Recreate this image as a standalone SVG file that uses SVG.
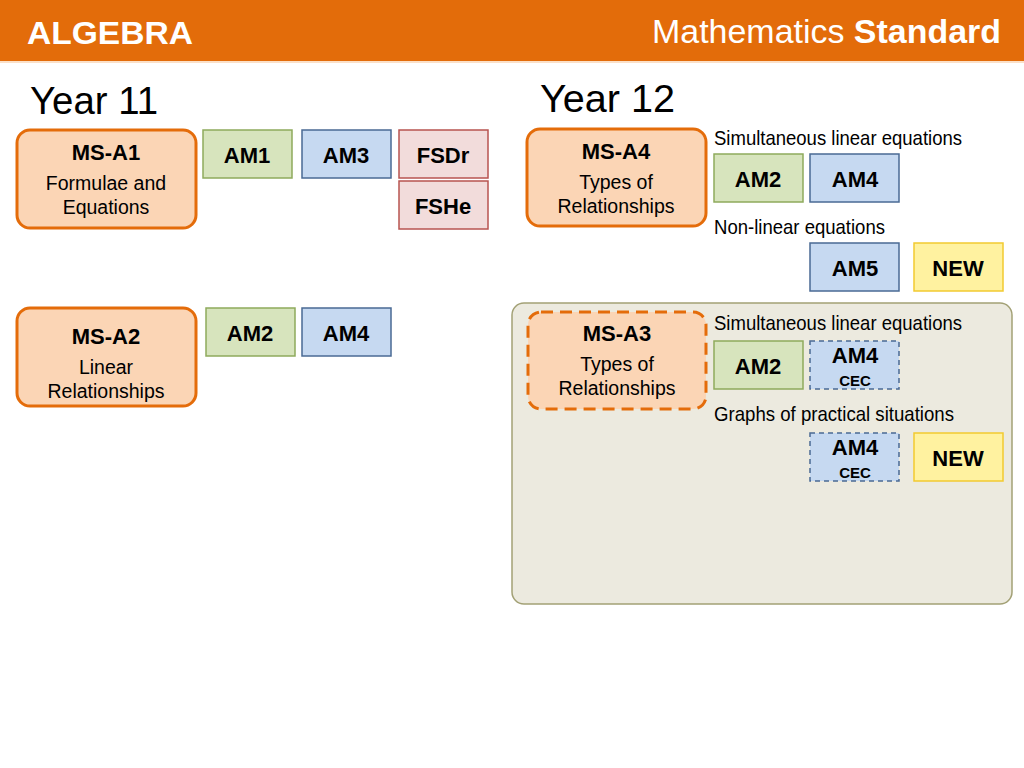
<svg xmlns="http://www.w3.org/2000/svg" width="1024" height="768" viewBox="0 0 1024 768">
<style>
text{font-family:"Liberation Sans",Arial,sans-serif;fill:#000}
.ms{fill:#FBD5B5;stroke:#E46C0A;stroke-width:3}
.msd{fill:#FBD5B5;stroke:#E46C0A;stroke-width:3;stroke-dasharray:12 7}
.g{fill:#D7E4BD;stroke:#8EAA5C;stroke-width:1.5}
.b{fill:#C6D9F1;stroke:#4A6A94;stroke-width:1.5}
.bd{fill:#C6D9F1;stroke:#4A6A94;stroke-width:1.5;stroke-dasharray:5 4}
.p{fill:#F2DCDB;stroke:#B85450;stroke-width:1.5}
.y{fill:#FFF2A0;stroke:#F2CA30;stroke-width:1.5}
.t{font-size:22px;font-weight:bold;text-anchor:middle}
.h{font-size:22px;font-weight:bold;text-anchor:middle}
.s{font-size:19.5px;text-anchor:middle}
.c{font-size:15px;font-weight:bold;text-anchor:middle}
.l{font-size:21px}
</style>
<rect x="0" y="0" width="1024" height="61" fill="#E36C0A"/>
<line x1="0" y1="62" x2="1024" y2="62" stroke="#FBE0C8" stroke-width="2"/>
<text x="27" y="44" font-size="32" font-weight="bold" textLength="166" lengthAdjust="spacingAndGlyphs" style="fill:#fff">ALGEBRA</text>
<text x="652" y="43" font-size="34" textLength="349" lengthAdjust="spacingAndGlyphs" style="fill:#fff">Mathematics <tspan font-weight="bold">Standard</tspan></text>
<text x="30" y="114" font-size="38" textLength="128" lengthAdjust="spacingAndGlyphs">Year 11</text>
<text x="540" y="112" font-size="38" textLength="135" lengthAdjust="spacingAndGlyphs">Year 12</text>

<g id="panel"><rect x="512" y="303" width="500" height="301" rx="12" fill="#ECEADF" stroke="#A3A176" stroke-width="1.5"/></g>

<g id="ms-a1"><rect class="ms" x="17" y="130" width="179" height="98" rx="13"/>
<text class="h" x="106" y="160">MS-A1</text><text class="s" x="106" y="190">Formulae and</text><text class="s" x="106" y="214">Equations</text></g>
<g id="y11-am1"><rect class="g" x="203" y="130" width="89" height="48"/><text class="t" x="247" y="163">AM1</text></g>
<g id="y11-am3"><rect class="b" x="302" y="130" width="89" height="48"/><text class="t" x="346" y="163">AM3</text></g>
<g id="fsdr"><rect class="p" x="399" y="130" width="89" height="48"/><text class="t" x="443" y="163">FSDr</text></g>
<g id="fshe"><rect class="p" x="399" y="181" width="89" height="48"/><text class="t" x="443" y="214">FSHe</text></g>

<g id="ms-a2"><rect class="ms" x="17" y="308" width="179" height="98" rx="13"/>
<text class="h" x="106" y="344">MS-A2</text><text class="s" x="106" y="374">Linear</text><text class="s" x="106" y="398">Relationships</text></g>
<g id="y11-am2"><rect class="g" x="206" y="308" width="89" height="48"/><text class="t" x="250" y="341">AM2</text></g>
<g id="y11-am4"><rect class="b" x="302" y="308" width="89" height="48"/><text class="t" x="346" y="341">AM4</text></g>

<g id="ms-a4"><rect class="ms" x="527" y="129" width="179" height="97" rx="13"/>
<text class="h" x="616" y="159">MS-A4</text><text class="s" x="616" y="189">Types of</text><text class="s" x="616" y="213">Relationships</text></g>
<text class="l" x="714" y="145" textLength="248" lengthAdjust="spacingAndGlyphs">Simultaneous linear equations</text>
<g id="a4-am2"><rect class="g" x="714" y="154" width="89" height="48"/><text class="t" x="758" y="187">AM2</text></g>
<g id="a4-am4"><rect class="b" x="810" y="154" width="89" height="48"/><text class="t" x="855" y="187">AM4</text></g>
<text class="l" x="714" y="234" textLength="171" lengthAdjust="spacingAndGlyphs">Non-linear equations</text>
<g id="a4-am5"><rect class="b" x="810" y="243" width="89" height="48"/><text class="t" x="855" y="276">AM5</text></g>
<g id="a4-new"><rect class="y" x="914" y="243" width="89" height="48"/><text class="t" x="958" y="276">NEW</text></g>

<g id="ms-a3"><rect class="msd" x="528" y="312" width="178" height="97" rx="13"/>
<text class="h" x="617" y="341">MS-A3</text><text class="s" x="617" y="371">Types of</text><text class="s" x="617" y="395">Relationships</text></g>
<text class="l" x="714" y="330" textLength="248" lengthAdjust="spacingAndGlyphs">Simultaneous linear equations</text>
<g id="a3-am2"><rect class="g" x="714" y="341" width="89" height="48"/><text class="t" x="758" y="374">AM2</text></g>
<g id="a3-am4a"><rect class="bd" x="810" y="341" width="89" height="48"/><text class="t" x="855" y="363">AM4</text><text class="c" x="855" y="386">CEC</text></g>
<text class="l" x="714" y="421" textLength="240" lengthAdjust="spacingAndGlyphs">Graphs of practical situations</text>
<g id="a3-am4b"><rect class="bd" x="810" y="433" width="89" height="48"/><text class="t" x="855" y="455">AM4</text><text class="c" x="855" y="478">CEC</text></g>
<g id="a3-new"><rect class="y" x="914" y="433" width="89" height="48"/><text class="t" x="958" y="466">NEW</text></g>
<g id="connectors"/>
</svg>
